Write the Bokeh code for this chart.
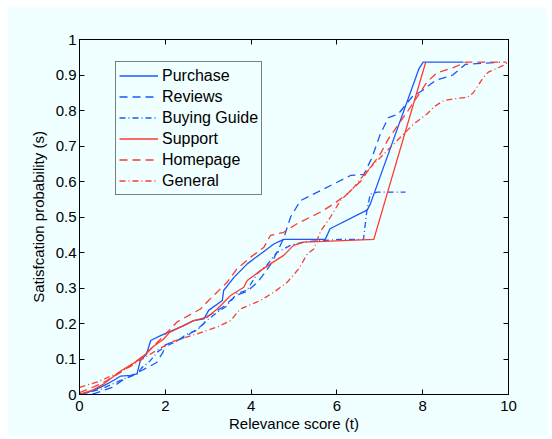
from bokeh.plotting import figure
from bokeh.models import LinearAxis, FixedTicker, CustomJSTickFormatter, Legend, LegendItem, Range1d
from bokeh.embed import file_html
from bokeh.resources import INLINE

# ---- data ----
purchase_x = [0, 0.3, 0.57, 0.8, 0.96, 1.19, 1.34, 1.42, 1.56, 1.66, 1.89, 2.43, 2.66, 2.9, 3.01, 3.33, 3.36, 3.6, 3.91, 4.22, 4.53, 4.76, 5.73, 5.84, 6.71, 6.78, 7.91, 8.01, 8.95]
purchase_y = [0, 0.01, 0.025, 0.04, 0.052, 0.054, 0.058, 0.096, 0.113, 0.152, 0.166, 0.194, 0.208, 0.213, 0.237, 0.265, 0.293, 0.33, 0.368, 0.396, 0.424, 0.437, 0.437, 0.467, 0.52, 0.537, 0.917, 0.936, 0.936]

reviews_x = [0, 0.36, 0.76, 1.0, 1.34, 1.57, 1.8, 1.95, 2.0, 2.27, 2.43, 2.66, 2.78, 2.9, 2.98, 3.13, 3.36, 3.52, 3.67, 3.91, 4.14, 4.3, 4.45, 4.6, 4.76, 4.92, 5.15, 6.32, 6.63, 6.82, 7.0, 7.2, 7.43, 7.75, 8.0, 8.3, 8.7, 9.0, 9.8]
reviews_y = [0, 0.003, 0.02, 0.04, 0.061, 0.075, 0.09, 0.12, 0.14, 0.152, 0.16, 0.178, 0.188, 0.2, 0.22, 0.23, 0.248, 0.265, 0.28, 0.291, 0.315, 0.34, 0.365, 0.40, 0.44, 0.50, 0.546, 0.617, 0.62, 0.668, 0.73, 0.78, 0.79, 0.838, 0.857, 0.885, 0.9, 0.93, 0.936]

guide_x = [0, 0.5, 0.96, 1.34, 1.45, 1.64, 1.82, 2.0, 2.27, 2.5, 2.73, 2.98, 3.2, 3.44, 3.67, 3.9, 4.14, 4.37, 4.6, 4.92, 5.23, 6.08, 6.62, 6.7, 6.78, 6.94, 7.6]
guide_y = [0, 0.015, 0.04, 0.058, 0.075, 0.094, 0.12, 0.135, 0.15, 0.17, 0.18, 0.21, 0.23, 0.25, 0.285, 0.293, 0.34, 0.365, 0.40, 0.42, 0.43, 0.437, 0.437, 0.52, 0.565, 0.57, 0.57]

support_x = [0, 0.3, 0.57, 0.96, 1.34, 1.57, 1.72, 1.95, 2.1, 2.66, 2.98, 3.21, 3.52, 3.83, 3.91, 4.22, 4.45, 4.76, 4.99, 5.23, 5.85, 6.86, 8.07]
support_y = [0, 0.012, 0.03, 0.066, 0.094, 0.117, 0.135, 0.155, 0.175, 0.208, 0.218, 0.241, 0.279, 0.302, 0.321, 0.349, 0.368, 0.392, 0.42, 0.429, 0.432, 0.437, 0.936]

homepage_x = [0, 0.5, 1.0, 1.5, 1.8, 2.0, 2.28, 2.82, 3.05, 3.44, 3.67, 3.99, 4.3, 4.45, 4.76, 5.07, 5.62, 5.93, 6.24, 6.55, 6.78, 7.0, 7.2, 7.43, 7.66, 7.88, 8.1, 8.33, 8.7, 9.0, 9.95]
homepage_y = [0.005, 0.03, 0.065, 0.11, 0.145, 0.17, 0.205, 0.241, 0.27, 0.316, 0.354, 0.387, 0.415, 0.448, 0.457, 0.481, 0.514, 0.537, 0.565, 0.60, 0.64, 0.675, 0.72, 0.76, 0.8, 0.84, 0.88, 0.906, 0.92, 0.936, 0.936]

general_x = [0, 0.4, 0.9, 1.2, 1.6, 2.12, 2.74, 3.21, 3.52, 3.75, 4.22, 4.53, 4.84, 5.11, 5.31, 5.46, 5.62, 5.85, 6.08, 6.4, 6.7, 7.02, 7.33, 7.56, 7.79, 8.1, 8.26, 8.49, 8.72, 9.04, 9.18, 9.42, 9.53, 9.88, 10]
general_y = [0.02, 0.035, 0.06, 0.08, 0.11, 0.147, 0.171, 0.19, 0.208, 0.241, 0.265, 0.288, 0.316, 0.354, 0.396, 0.41, 0.46, 0.50, 0.546, 0.584, 0.63, 0.668, 0.706, 0.734, 0.762, 0.79, 0.81, 0.828, 0.833, 0.837, 0.85, 0.894, 0.908, 0.927, 0.936]

x_ticks = [0, 2, 4, 6, 8, 10]
y_ticks = [0, 0.1, 0.2, 0.3, 0.4, 0.5, 0.6, 0.7, 0.8, 0.9, 1]

BG = "#F0FFFF"
BLUE = "#1a58fa"
RED = "#ff3a2e"
FONT = "Liberation Sans"

p = figure(frame_width=429, frame_height=355, output_backend="svg", toolbar_location=None,
           x_range=Range1d(0, 10), y_range=Range1d(0, 1),
           min_border_left=72, min_border_top=33, min_border_right=39, min_border_bottom=43,
           x_axis_label="Relevance score (t)", y_axis_label="Satisfcation probability (s)")
p.margin = (6, 0, 0, 7)
p.background_fill_color = BG
p.border_fill_color = BG
p.outline_line_color = "black"
p.outline_line_width = 1
p.xgrid.visible = False
p.ygrid.visible = False

fmt = CustomJSTickFormatter(code="return String(Math.round(tick*10)/10)")

for ax, ticks in ((p.xaxis[0], x_ticks), (p.yaxis[0], y_ticks)):
    ax.ticker = FixedTicker(ticks=ticks)
    ax.formatter = fmt
    ax.major_tick_in = 5
    ax.major_tick_out = 0
    ax.minor_tick_line_color = None
    ax.axis_line_color = "black"
    ax.major_tick_line_color = "black"
    ax.major_label_text_font = FONT
    ax.major_label_text_font_size = "15px"
    ax.major_label_text_color = "black"
    ax.axis_label_text_font = FONT
    ax.axis_label_text_font_size = "15px"
    ax.axis_label_text_font_style = "normal"
    ax.axis_label_text_color = "black"
p.xaxis[0].major_label_standoff = 6
p.xaxis[0].axis_label_standoff = 1
p.yaxis[0].major_label_standoff = 3
p.yaxis[0].axis_label_standoff = 6

top = LinearAxis(ticker=FixedTicker(ticks=x_ticks), major_label_text_color=None,
                 major_tick_in=5, major_tick_out=0, minor_tick_line_color=None,
                 major_label_text_font_size="1px", major_label_standoff=0)
right = LinearAxis(ticker=FixedTicker(ticks=y_ticks), major_label_text_color=None,
                   major_tick_in=5, major_tick_out=0, minor_tick_line_color=None,
                   major_label_text_font_size="1px", major_label_standoff=0)
p.add_layout(top, "above")
p.add_layout(right, "right")

LW = 1.3
series = [
    ("Purchase", purchase_x, purchase_y, BLUE, "solid"),
    ("Reviews", reviews_x, reviews_y, BLUE, "8 5"),
    ("Buying Guide", guide_x, guide_y, BLUE, "6 3 1 3"),
    ("Support", support_x, support_y, RED, "solid"),
    ("Homepage", homepage_x, homepage_y, RED, "8 5"),
    ("General", general_x, general_y, RED, "6 3 1 3"),
]
items = []
for name, xs, ys, col, dash in series:
    r = p.line(xs, ys, line_color=col, line_width=LW, line_dash=dash)
    items.append(LegendItem(label=name, renderers=[r]))

legend = Legend(items=items, location=(36, 199))
legend.background_fill_color = BG
legend.background_fill_alpha = 1
legend.border_line_color = "black"
legend.border_line_width = 1
legend.label_text_font = FONT
legend.label_text_font_size = "16px"
legend.label_text_color = "black"
legend.glyph_width = 39
legend.glyph_height = 21
legend.label_height = 21
legend.spacing = 0
legend.padding = 3
legend.margin = 0
legend.label_standoff = 4
p.add_layout(legend, "center")

open("out.html", "w").write(file_html(p, INLINE))
